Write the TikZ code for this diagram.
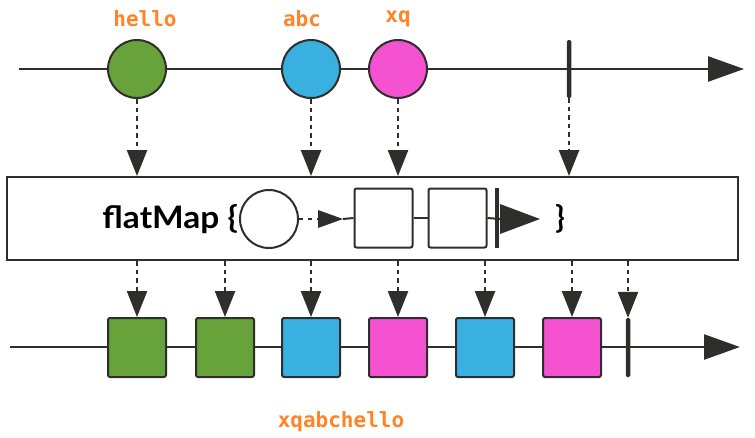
\documentclass[tikz,border=0pt]{standalone}
\usepackage{fontspec}
\setmainfont{Lato}
\newfontfamily\lblfont{DejaVu Sans Mono}
\usetikzlibrary{arrows.meta,calc}
\definecolor{ink}{HTML}{2E2E2C}
\definecolor{mgreen}{HTML}{68A23A}
\definecolor{mblue}{HTML}{3AB0E0}
\definecolor{mpink}{HTML}{F452D1}
\definecolor{lblorange}{HTML}{FF8427}
\tikzset{
  axis/.style={draw=ink,line width=2.5pt,-{Triangle[length=36pt,width=25pt]}},
  marble/.style={circle,draw=ink,line width=2pt,minimum size=58pt,inner sep=0pt},
  itembox/.style={rectangle,draw=ink,line width=2pt,rounded corners=2pt,minimum width=58pt,minimum height=59pt,inner sep=0pt},
  donebar/.style={rectangle,fill=ink,draw=none,minimum width=4.5pt,minimum height=58pt,inner sep=0pt,rounded corners=1.5pt},
  dasharrow/.style={draw=ink,line width=2.5pt,dash pattern=on 4.5pt off 4pt,-{Triangle[length=26pt,width=20pt]}},
  lbl/.style={text=lblorange,font=\lblfont\bfseries\fontsize{21}{21}\selectfont,inner sep=0pt},
}
\begin{document}
\begin{tikzpicture}[x=1pt,y=-1pt]
\useasboundingbox (0,0) rectangle (755,437);
% top timeline
\coordinate (ta) at (19,69);
\coordinate (tb) at (744,69);
\draw[axis] (ta) -- (tb);
\node[marble,fill=mgreen] (c1) at (137,69) {};
\node[marble,fill=mblue] (c2) at (311,69) {};
\node[marble,fill=mpink] (c3) at (398,69) {};
\node[donebar] (e1) at (569,69) {};
\node[lbl] (l1) at (145,19) {hello};
\node[lbl] (l2) at (302,19) {abc};
\node[lbl] (l3) at (398,19) {xq};
% operator box
\node[rectangle,draw=ink,line width=2pt,minimum width=731pt,minimum height=83pt,inner sep=0pt] (box) at (372.5,218.5) {};
\node[font=\bfseries\fontsize{31}{31}\selectfont,inner sep=0pt,anchor=east,xscale=1.08] (fm) at (238,219) {flatMap \{};
\node[circle,draw=ink,line width=2pt,minimum size=58pt,inner sep=0pt,fill=white] (ic) at (269,219) {};
\node[itembox,fill=white] (s1) at (383.5,218) {};
\node[itembox,fill=white] (s2) at (457.5,218) {};
\node[rectangle,fill=ink,minimum width=4.5pt,minimum height=60pt,inner sep=0pt] (ib) at (497,218) {};
\coordinate (p1) at (318,219);
\coordinate (p2) at (343,219);
\coordinate (p3) at (540,219);
\draw[ink,line width=2.5pt,dash pattern=on 4pt off 5pt] (ic.east) -- (p1);
\fill[ink] (318,210) -- (p2) -- (318,228) -- cycle;
\draw[ink,line width=2pt] (p2) -- (s1.west);
\draw[ink,line width=2pt] (s1.east) -- (s2.west);
\draw[ink,line width=2pt] (s2.east) -- (500,219);
\fill[ink] (500,204) -- (p3) -- (500,234) -- cycle;
\node[font=\bfseries\fontsize{31}{31}\selectfont,inner sep=0pt] (rb) at (560,219) {\}};
% arrows into box
\foreach \n in {c1,c2,c3,e1}{
  \draw[dasharrow] (\n.south) -- (\n.south |- box.north);
}
% bottom timeline
\coordinate (ba) at (10,347);
\coordinate (bb) at (740,347);
\draw[axis] (ba) -- (bb);
\node[itembox,fill=mgreen] (o1) at (137,347.5) {};
\node[itembox,fill=mgreen] (o2) at (225,347.5) {};
\node[itembox,fill=mblue] (o3) at (311,347.5) {};
\node[itembox,fill=mpink] (o4) at (398,347.5) {};
\node[itembox,fill=mblue] (o5) at (485,347.5) {};
\node[itembox,fill=mpink] (o6) at (572,347.5) {};
\node[donebar,minimum height=59pt] (e2) at (628,347.5) {};
\foreach \n in {o1,o2,o3,o4,o5,o6,e2}{
  \draw[dasharrow] (\n.north |- box.south) -- (\n.north);
}
\node[lbl] (l4) at (341,422) {xqabchello};
\end{tikzpicture}
\end{document}
